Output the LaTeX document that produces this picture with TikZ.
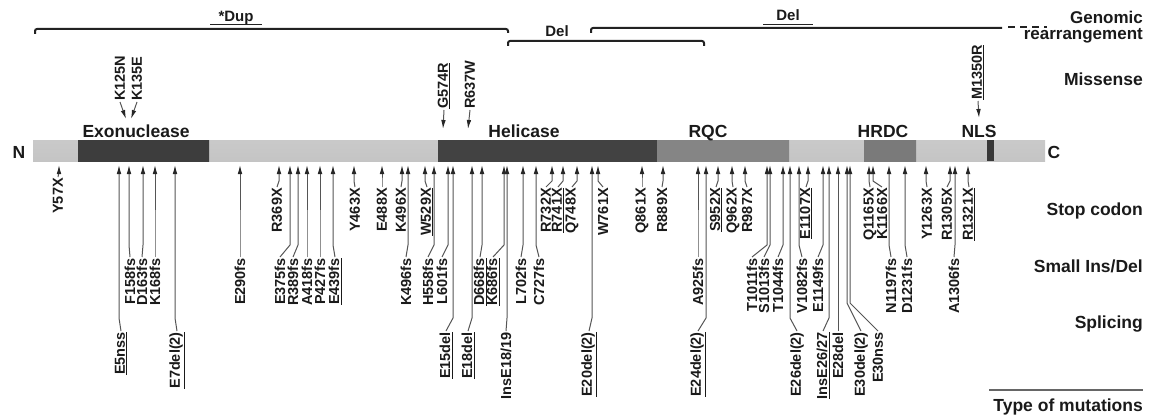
\documentclass[tikz,border=0pt]{standalone}
\usepackage{fontspec}
\setmainfont{Liberation Sans}
\usetikzlibrary{arrows.meta}
\definecolor{txt}{HTML}{1A1A1A}
\definecolor{shaft}{HTML}{555555}
\definecolor{brk}{HTML}{222222}
\newcommand\mutlab[6]{%
  \node[mlab, anchor=east] (#1) at (#3,#4) {#6};
  \coordinate (#1t) at (#2,165);
  \draw[marr] (#1.east) -- (#2,#5) -- (#1t);
}
\newcommand\mislab[6]{%
  \node[mlab, anchor=west] (#1) at (#2,#3) {#6};
  \coordinate (#1t) at (#4,#5);
  \draw[marr] (#1.west) -- (#1t);
}
\begin{document}
\begin{tikzpicture}[x=1pt,y=-1pt,
  mlab/.style={font=\bfseries\fontsize{14.5}{15}\selectfont, text=txt, rotate=90, inner sep=1pt},
  marr/.style={draw=shaft, line width=1pt, -{Latex[length=9pt,width=4.6pt,color=black!85]}},
  rlab/.style={font=\bfseries\fontsize{17.5}{18}\selectfont, text=txt, anchor=base east, inner sep=0pt},
  dlab/.style={font=\bfseries\fontsize{17.5}{18}\selectfont, text=txt, anchor=base, inner sep=0pt},
  glab/.style={font=\bfseries\fontsize{15}{16}\selectfont, text=txt, anchor=base, inner sep=0pt},
  bracket/.style={draw=brk, line width=2pt, rounded corners=2pt},
  uline/.style={draw=brk, line width=1.2pt}]
\useasboundingbox (0,0) rectangle (1156,420);

% ---- genomic rearrangement brackets
\draw[bracket] (35,34) -- (35,29) -- (508,29) -- (508,33);
\draw[bracket] (508,46) -- (508,41) -- (704,41) -- (704,46);
\draw[bracket] (591,33) -- (591,28) -- (1002,28);
\draw[draw=brk, line width=2pt, dash pattern=on 7pt off 5pt] (1008,27) -- (1047,27);
\node[glab] (dup) at (236,22) {*Dup};
\draw[uline] (210,24.5) -- (262,24.5);
\node[glab] (del1) at (557,37) {Del};
\node[glab] (del2) at (788,21) {Del};
\draw[uline] (763,24.5) -- (813,24.5);

% ---- protein bar
\shade[top color=black!21, middle color=black!7, bottom color=black!23] (33,140) rectangle (1045,161);
\shade[top color=black!76, middle color=black!62, bottom color=black!76] (78,140) rectangle (209,161);
\shade[top color=black!74, middle color=black!60, bottom color=black!74] (438,140) rectangle (657,161);
\shade[top color=black!48, middle color=black!34, bottom color=black!48] (657,140) rectangle (789,161);
\shade[top color=black!52, middle color=black!38, bottom color=black!52] (864,140) rectangle (916,161);
\fill[black!78] (987,140) rectangle (994,161);

\node[dlab] (nterm) at (19,158) {N};
\node[dlab] (cterm) at (1054,158) {C};
\node[dlab] (exo) at (136,137) {Exonuclease};
\node[dlab] (hel) at (524,137) {Helicase};
\node[dlab] (rqc) at (708,137) {RQC};
\node[dlab] (hrdc) at (883,137) {HRDC};
\node[dlab] (nls) at (979,137) {NLS};

% ---- right-hand labels
\node[font=\bfseries\fontsize{17}{15.5}\selectfont, text=txt, align=right, anchor=north east, inner sep=0pt] (lgen) at (1143,11) {Genomic\\rearrangement};
\node[rlab] (lmis) at (1143,85) {Missense};
\node[rlab] (lsto) at (1143,215) {Stop codon};
\node[rlab] (lsml) at (1143,272) {Small Ins/Del};
\node[rlab] (lspl) at (1143,328) {Splicing};
\node[rlab] (ltyp) at (1143,411) {Type of mutations};
\draw[draw=black!60, line width=1.3pt] (989,390) -- (1143,390);

% ---- missense
\mislab{m1}{120}{102}{126}{119}{K125N}
\mislab{m2}{137}{102}{131}{119}{K135E}
\mislab{m3}{444}{110}{443}{129}{\underline{G574R}}
\mislab{m4}{470}{110}{468}{129}{R637W}
\mislab{m5}{978}{101}{979}{118}{\underline{M1350R}}

% ---- stop codon
\mutlab{s1}{59}{58}{177}{172}{Y57X}
\mutlab{s2}{279}{277}{187}{181}{R369X}
\mutlab{s3}{354}{355}{187}{181}{Y463X}
\mutlab{s4}{382}{382}{187}{181}{E488X}
\mutlab{s5}{402}{401}{187}{181}{K496X}
\mutlab{s6}{425}{427}{187}{181}{\underline{W529X}}
\mutlab{s7}{552}{546}{187}{181}{R732X}
\mutlab{s8}{563}{558}{187}{181}{\underline{R741X}}
\mutlab{s9}{577}{572}{187}{181}{Q748X}
\mutlab{s10}{598}{603}{187}{181}{W761X}
\mutlab{s11}{642}{642}{187}{181}{Q861X}
\mutlab{s12}{663}{662}{187}{181}{R889X}
\mutlab{s13}{718}{716}{187}{181}{\underline{S952X}}
\mutlab{s14}{732}{733}{187}{181}{Q962X}
\mutlab{s15}{745}{747}{187}{181}{R987X}
\mutlab{s16}{808}{806}{187}{181}{\underline{E1107X}}
\mutlab{s17}{869}{870}{187}{181}{Q1165X}
\mutlab{s18}{873}{882}{187}{181}{K1166X}
\mutlab{s19}{926}{927}{187}{181}{Y1263X}
\mutlab{s20}{950}{947}{187}{181}{R1305X}
\mutlab{s21}{968}{969}{187}{181}{\underline{R1321X}}

% ---- small ins/del
\mutlab{i1}{129}{130}{257}{245}{F158fs}
\mutlab{i2}{143}{142}{257}{245}{D163fs}
\mutlab{i3}{155}{155}{257}{245}{K168fs}
\mutlab{i4}{240}{240}{257}{245}{E290fs}
\mutlab{i5}{290}{280}{257}{245}{E375fs}
\mutlab{i6}{298}{293}{257}{245}{R389fs}
\mutlab{i7}{307}{307}{257}{245}{A418fs}
\mutlab{i8}{320}{320}{257}{245}{P427fs}
\mutlab{i9}{333}{335}{257}{245}{\underline{E439fs}}
\mutlab{i10}{408}{406}{257}{245}{K496fs}
\mutlab{i11}{434}{428}{257}{245}{H558fs}
\mutlab{i12}{448}{442}{257}{245}{L601fs}
\mutlab{i13}{482}{480}{257}{245}{\underline{D668fs}}
\mutlab{i14}{504}{493}{257}{245}{\underline{K686fs}}
\mutlab{i15}{523}{521}{257}{245}{L702fs}
\mutlab{i16}{536}{539}{257}{245}{C727fs}
\mutlab{i17}{698}{698}{257}{245}{A925fs}
\mutlab{i18}{767}{752}{257}{245}{T1011fs}
\mutlab{i19}{770}{764}{257}{245}{S1013fs}
\mutlab{i20}{783}{778}{257}{245}{T1044fs}
\mutlab{i21}{799}{802}{257}{245}{V1082fs}
\mutlab{i22}{823}{818}{257}{245}{E1149fs}
\mutlab{i23}{889}{891}{257}{245}{N1197fs}
\mutlab{i24}{905}{907}{257}{245}{D1231fs}
\mutlab{i25}{955}{954}{257}{245}{A1306fs}

% ---- splicing
\mutlab{p1}{119}{121}{331}{318}{\underline{E5nss}}
\mutlab{p2}{175}{177}{331}{318}{\underline{E7del(2)}}
\mutlab{p3}{453}{446}{331}{318}{\underline{E15del}}
\mutlab{p4}{472}{468}{331}{318}{\underline{E18del}}
\mutlab{p5}{507}{506}{331}{318}{InsE18/19}
\mutlab{p6}{592}{589}{331}{318}{\underline{E20del(2)}}
\mutlab{p7}{706}{698}{331}{318}{\underline{E24del(2)}}
\mutlab{p8}{790}{797}{331}{318}{E26del(2)}
\mutlab{p9}{829}{823}{331}{318}{\underline{InsE26/27}}
\mutlab{p10}{838}{838}{331}{318}{E28del}
\mutlab{p11}{847}{861}{331}{303}{E30del(2)}
\mutlab{p12}{850}{878}{331}{303}{E30nss}
\end{tikzpicture}
\end{document}
